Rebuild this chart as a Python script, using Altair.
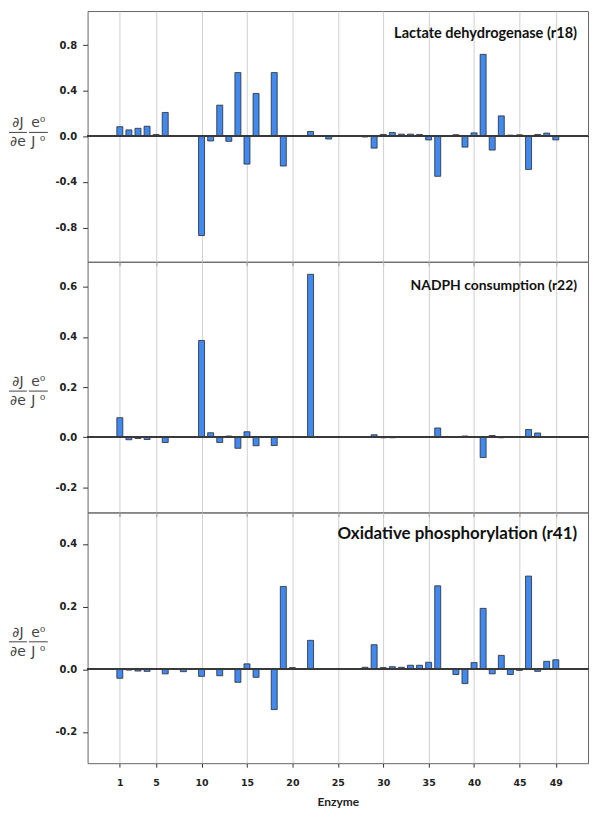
import altair as alt
import pandas as pd

enzymes = list(range(1, 50))

ldh = [0.085, 0.057, 0.071, 0.089, 0.017, 0.21, 0.003, 0.005, 0.0, -0.87,
       -0.04, 0.274, -0.043, 0.56, -0.243, 0.377, 0.0, 0.56, -0.26, 0.003,
       0.0, 0.043, 0.002, -0.023, 0.001, 0.0, 0.003, -0.005, -0.103, 0.017,
       0.034, 0.02, 0.02, 0.017, -0.031, -0.35, 0.003, 0.015, -0.094, 0.031,
       0.72, -0.12, 0.18, 0.011, 0.014, -0.29, 0.017, 0.029, -0.031]

nadph = [0.078, -0.010, -0.005, -0.009, 0.0, -0.021, 0.0, -0.001, 0.0, 0.386,
         0.018, -0.021, 0.005, -0.044, 0.022, -0.034, 0.0, -0.033, -0.001, 0.001,
         0.001, 0.65, 0.0, 0.002, 0.0, 0.0, 0.001, 0.001, 0.010, -0.002,
         -0.002, 0.001, 0.001, 0.001, 0.003, 0.037, 0.0, 0.001, 0.005, 0.001,
         -0.081, 0.007, -0.002, 0.002, 0.0, 0.031, 0.017, 0.002, 0.003]

oxphos = [-0.029, -0.003, -0.006, -0.007, -0.001, -0.015, -0.001, -0.008, 0.0, -0.023,
          0.0, -0.021, 0.002, -0.042, 0.017, -0.026, -0.001, -0.129, 0.264, 0.005,
          0.0, 0.092, 0.0, 0.001, 0.0, 0.0, 0.0, 0.006, 0.078, 0.005,
          0.008, 0.006, 0.0125, 0.0125, 0.022, 0.266, 0.001, -0.017, -0.046, 0.021,
          0.194, -0.015, 0.044, -0.017, -0.004, 0.297, -0.007, 0.025, 0.030]

titles = ["Lactate dehydrogenase (r18)", "NADPH consumption (r22)",
          "Oxidative phosphorylation (r41)"]
y_domains = [[-1.1, 1.1], [-0.3, 0.7], [-0.3, 0.5]]
y_ticks = [[-0.8, -0.4, 0.0, 0.4, 0.8], [-0.2, 0.0, 0.2, 0.4, 0.6],
           [-0.2, 0.0, 0.2, 0.4]]
x_ticks = [1, 5, 10, 15, 20, 25, 30, 35, 40, 45, 49]
x_title = "Enzyme"
formula_top = ["\u2202J", "e\u2070"]
formula_bottom = ["\u2202e", "J \u2070"]

W = 503
H = 252
title_y = [23, 24, 22]
title_size = [14.6, 14, 17]
line_y = [122, 130, 130]

BAR_FILL = "#4189ef"


def panel(i, values, bottom):
    df = pd.DataFrame({"enzyme": enzymes, "v": values})
    df = df[df["v"] != 0]
    xaxis_kwargs = dict(values=x_ticks, grid=True, gridColor="#d0d0d0", gridWidth=1,
                        domain=False, ticks=True, tickSize=4, tickColor="#333",
                        labels=bottom)
    if bottom:
        xaxis_kwargs.update(title=x_title, labelFont="DejaVu Sans", labelFontWeight="bold",
                            labelFontSize=9.5, labelColor="#222", labelPadding=10,
                            titleFont="Lato", titleFontWeight="bold", titleFontSize=12,
                            titleColor="#222", titlePadding=10)
    else:
        xaxis_kwargs.update(title=None)
    x = alt.X("enzyme:Q", scale=alt.Scale(domain=[-2, 52], nice=False, zero=False),
              axis=alt.Axis(**xaxis_kwargs))
    y = alt.Y("v:Q", scale=alt.Scale(domain=y_domains[i], nice=False, zero=False),
              axis=alt.Axis(values=y_ticks[i], grid=False, domain=False, tickSize=5,
                            tickColor="#333", labelFont="DejaVu Sans",
                            labelFontWeight="bold", labelFontSize=10, labelColor="#222",
                            labelPadding=6, title=None,
                            labelExpr="replace(format(datum.value, '.1f'), '\u2212', '-')"))
    bars = alt.Chart(df).mark_bar(size=6, color=BAR_FILL, stroke="#2a2a2a",
                                  strokeWidth=0.8).encode(x=x, y=y)
    zero = alt.Chart(df).mark_rule(color="#3a3a3a", strokeWidth=1).encode(y=alt.datum(0))
    tdf = pd.DataFrame({"t": [titles[i]]})
    ttl = alt.Chart(tdf).mark_text(align="right", baseline="middle", font="Lato",
                                   fontWeight="bold", fontSize=title_size[i],
                                   color="#111").encode(
        x=alt.value(W - 11), y=alt.value(title_y[i]), text="t:N")
    layers = [bars, zero, ttl]
    ly = line_y[i]
    centers = [-70, -49.5]
    spans = [(-79, -61), (-59, -40)]
    for k in range(2):
        fdf = pd.DataFrame({"a": [formula_top[k]], "b": [formula_bottom[k]]})
        layers.append(alt.Chart(fdf).mark_text(align="center", baseline="middle",
                                               font="DejaVu Sans", fontSize=14,
                                               color="#444").encode(
            x=alt.value(centers[k]), y=alt.value(ly - 9), text="a:N"))
        layers.append(alt.Chart(fdf).mark_text(align="center", baseline="middle",
                                               font="DejaVu Sans", fontSize=14,
                                               color="#444").encode(
            x=alt.value(centers[k]), y=alt.value(ly + 10), text="b:N"))
        layers.append(alt.Chart(fdf).mark_rule(color="#444", strokeWidth=1).encode(
            x=alt.value(spans[k][0]), x2=alt.value(spans[k][1]), y=alt.value(ly)))
    return alt.layer(*layers).properties(width=W, height=H)


chart = alt.vconcat(
    panel(0, ldh, False),
    panel(1, nadph, False),
    panel(2, oxphos, True),
    spacing=0,
    bounds="flush",
).configure_view(stroke="#666", strokeWidth=1).properties(
    padding={"left": 0, "top": 0, "right": 3, "bottom": 0}
)

chart.save("out.html", embed_options={"renderer": "svg", "actions": False})
